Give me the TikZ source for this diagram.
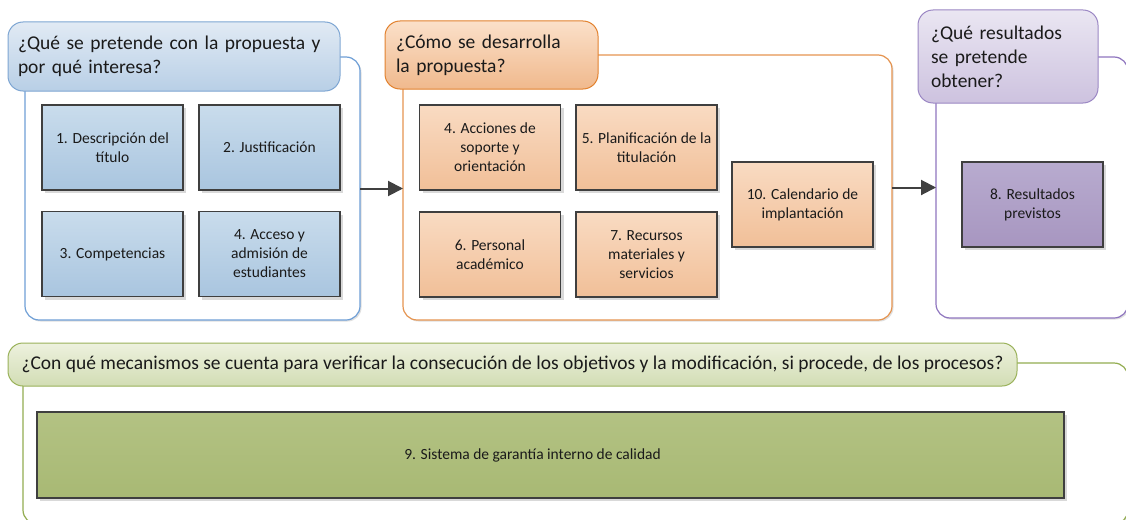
\documentclass[tikz,border=0pt]{standalone}
\usepackage{fontspec}
\setmainfont{Carlito}
\usetikzlibrary{arrows.meta,shadows}
\definecolor{boxline}{HTML}{3F3F3F}
\definecolor{arrowgray}{HTML}{404040}
\definecolor{txt}{HTML}{1A1A1A}
\definecolor{bboxT}{HTML}{C9DCEC}\definecolor{bboxB}{HTML}{A9C5DF}
\definecolor{bhdrT}{HTML}{E1EAF4}\definecolor{bhdrB}{HTML}{B8CFE6}
\definecolor{bline}{HTML}{7EA6D3}\definecolor{bcont}{HTML}{6F9FD6}
\definecolor{oboxT}{HTML}{F9DBC2}\definecolor{oboxB}{HTML}{F1BF98}
\definecolor{ohdrT}{HTML}{FBE0C9}\definecolor{ohdrB}{HTML}{F0B98D}
\definecolor{oline}{HTML}{E2822F}\definecolor{ocont}{HTML}{E59450}
\definecolor{pboxT}{HTML}{B8ABCF}\definecolor{pboxB}{HTML}{A796C0}
\definecolor{phdrT}{HTML}{EAE6F2}\definecolor{phdrB}{HTML}{CDC2DF}
\definecolor{pline}{HTML}{9B87C4}\definecolor{pcont}{HTML}{8F76BF}
\definecolor{gboxT}{HTML}{B3C283}\definecolor{gboxB}{HTML}{A8B974}
\definecolor{ghdrT}{HTML}{EDF1DE}\definecolor{ghdrB}{HTML}{D2DDB4}
\definecolor{gline}{HTML}{9AB25A}\definecolor{gcont}{HTML}{93AD50}
\tikzset{
  cont/.style={draw, rounded corners=14pt, fill=white, line width=1.2pt, inner sep=0pt, outer sep=0pt,
    drop shadow={shadow xshift=1.5pt, shadow yshift=-1.5pt, fill=black!12, opacity=1}},
  hdr/.style={draw, rounded corners=15pt, line width=1pt, text=txt, font=\fontsize{19.5}{24}\selectfont,
    inner ysep=0pt, outer sep=0pt},
  stepbox/.style={draw=boxline, line width=1.2pt, text=txt, font=\fontsize{15.5}{19}\selectfont,
    align=center, inner sep=0pt, outer sep=0pt, minimum width=141pt, minimum height=85pt,
    drop shadow={shadow xshift=3pt, shadow yshift=-3pt, fill=black!15, opacity=1}},
  bluebox/.style={stepbox, top color=bboxT, bottom color=bboxB},
  orbox/.style={stepbox, top color=oboxT, bottom color=oboxB},
  flow/.style={draw=arrowgray, line width=2pt, -{Triangle[length=15pt,width=15pt]}},
}
\begin{document}
\begin{tikzpicture}[x=1pt,y=-1pt]
\useasboundingbox (0,0) rectangle (1126,519);
\clip (0,0) rectangle (1126,519);
\fill[white] (0,0) rectangle (1126,519);

% containers
\node[cont, draw=bcont, minimum width=335pt, minimum height=263pt] (bluecont) at (192.5,188.5) {};
\node[cont, draw=ocont, minimum width=489pt, minimum height=265pt] (orcont) at (647.5,187.5) {};
\node[cont, draw=pcont, minimum width=192pt, minimum height=261pt] (purcont) at (1032,187.5) {};
\node[cont, draw=gcont, minimum width=1105pt, minimum height=161pt] (grcont) at (575.5,443.5) {};

% headers
\node[hdr, draw=bline, top color=bhdrT, bottom color=bhdrB, minimum width=332pt, minimum height=69pt,
  text width=312pt, align=left, inner xsep=10pt] (bluehdr) at (174,56.5)
  {¿Qué se pretende con la propuesta y\\por qué interesa?};
\node[hdr, draw=oline, top color=ohdrT, bottom color=ohdrB, minimum width=213pt, minimum height=68pt,
  text width=191pt, align=left, inner xsep=11pt] (orhdr) at (491.5,55)
  {¿Cómo se desarrolla\\la propuesta?};
\node[hdr, draw=pline, top color=phdrT, bottom color=phdrB, minimum width=180pt, minimum height=93pt,
  text width=154pt, align=left, inner xsep=13pt] (purhdr) at (1008,56.5)
  {¿Qué resultados\\se pretende\\obtener?};
\node[hdr, draw=gline, top color=ghdrT, bottom color=ghdrB, minimum width=1009pt, minimum height=43pt,
  inner xsep=8pt] (grhdr) at (512.5,364.5)
  {¿Con qué mecanismos se cuenta para verificar la consecución de los objetivos y la modificación, si procede, de los procesos?};

% blue boxes
\node[bluebox] (b1) at (112.5,147.5) {1. Descripción del\\título};
\node[bluebox] (b2) at (269.5,147.5) {2. Justificación};
\node[bluebox] (b3) at (112.5,254) {3. Competencias};
\node[bluebox] (b4) at (269.5,254) {4. Acceso y\\admisión de\\estudiantes};

% orange boxes
\node[orbox] (o4) at (490,147.5) {4. Acciones de\\soporte y\\orientación};
\node[orbox] (o5) at (646.5,147.5) {5. Planificación de la\\titulación};
\node[orbox] (o6) at (490,254.5) {6. Personal\\académico};
\node[orbox] (o7) at (646.5,254.5) {7. Recursos\\materiales y\\servicios};
\node[orbox] (o10) at (802.5,204.5) {10. Calendario de\\implantación};

% purple box
\node[stepbox, top color=pboxT, bottom color=pboxB] (p8) at (1032.5,204.5) {8. Resultados\\previstos};

% green box
\node[stepbox, top color=gboxT, bottom color=gboxB, minimum width=1027pt, minimum height=86pt] (g9) at (550.5,455) {};
\node[text=txt, font=\fontsize{15.5}{19}\selectfont, inner sep=0pt] (g9t) at (532.5,455) {9. Sistema de garantía interno de calidad};

% connectors
\draw[flow] (bluecont.east) -- (bluecont.east -| orcont.west);
\draw[flow] (orcont.east) -- (orcont.east -| purcont.west);
\end{tikzpicture}
\end{document}
